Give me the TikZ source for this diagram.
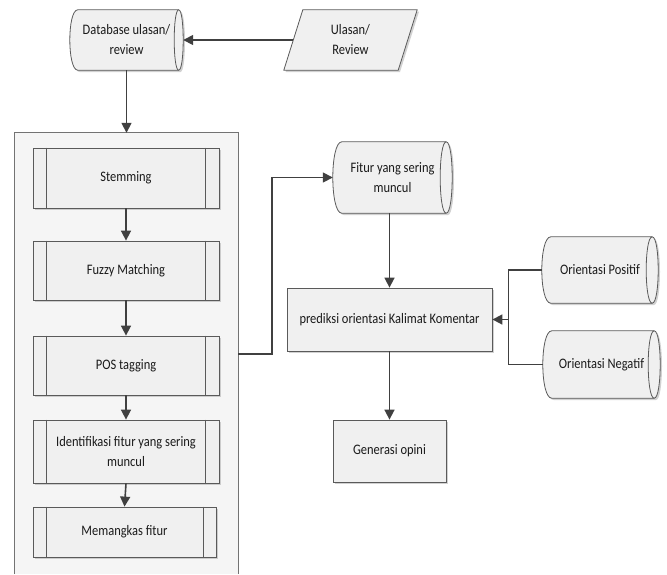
\documentclass[tikz,border=0pt]{standalone}
\usepackage{fontspec}
\setmainfont{Carlito}[FakeStretch=0.86]
\usetikzlibrary{calc,shadows,arrows.meta}
\pgfdeclarelayer{back}
\pgfdeclarelayer{mid}
\pgfsetlayers{back,mid,main}
\definecolor{linecol}{HTML}{404040}
\definecolor{boxline}{HTML}{5A5A5A}
\definecolor{boxfill}{HTML}{F0F0F0}
\definecolor{grpfill}{HTML}{F5F5F5}
\definecolor{txt}{HTML}{1A1A1A}
\tikzset{
  lbl/.style={font=\fontsize{14.5}{20}\selectfont, text=txt, align=center, inner sep=0pt},
  boxshadow/.style={drop shadow={shadow xshift=1.8pt, shadow yshift=-1.8pt, fill=black!30, opacity=0.6}},
  shapefill/.style={fill=boxfill, draw=boxline, line width=0.8pt, boxshadow},
  shapeline/.style={draw=boxline, line width=0.8pt},
  procbox/.style={lbl, draw=boxline, line width=0.8pt, fill=boxfill, boxshadow},
  plainbox/.style={lbl, draw=boxline, line width=0.8pt, fill=boxfill, boxshadow},
  conn/.style={draw=linecol, line width=1.6pt},
  arr/.style={conn, -{Triangle[length=10pt,width=10pt]}},
}
\newcommand\drawcyl[3]{%
  \path[shapefill] ($(#1.north west)+(#2,0)$)
    .. controls ($(#1.north west)+(-#2/3,0)$) and ($(#1.south west)+(-#2/3,0)$) .. ($(#1.south west)+(#2,0)$)
    -- ($(#1.south east)+(-#3,0)$)
    .. controls ($(#1.south east)+(#3/3,0)$) and ($(#1.north east)+(#3/3,0)$) .. ($(#1.north east)+(-#3,0)$)
    -- cycle;
  \draw[shapeline] ($(#1.north east)+(-#3,0)$)
    .. controls ($(#1.north east)+(-7*#3/3,0)$) and ($(#1.south east)+(-7*#3/3,0)$) .. ($(#1.south east)+(-#3,0)$);
}
\newcommand\drawsub[3]{%
  \draw[shapeline] ($(#1.north west)+(#2,0)$) -- ($(#1.south west)+(#2,0)$);
  \draw[shapeline] ($(#1.north east)+(-#3,0)$) -- ($(#1.south east)+(-#3,0)$);
}
\begin{document}
\begin{tikzpicture}[x=1pt,y=1pt]
\useasboundingbox (0,0) rectangle (667,-574);

% container
\node[minimum width=223pt, minimum height=441pt, inner sep=0pt] (grp) at (126.5,-353.5) {};
\begin{pgfonlayer}{back}
  \fill[grpfill] (grp.north west) rectangle (grp.south east);
  \draw[draw=black!55, line width=0.8pt] (grp.south west) -- (grp.north west) -- (grp.north east) -- (grp.south east);
\end{pgfonlayer}

% top nodes
\node[lbl, minimum width=113pt, minimum height=60pt] (db) at (126.5,-40) {Database ulasan/\\review};
\node[lbl, minimum width=114pt, minimum height=60pt] (ul) at (350.5,-40) {Ulasan/\\Review};
\begin{pgfonlayer}{mid}
  \drawcyl{db}{8}{4.5}
  \path[shapefill] ($(ul.north west)+(9.5,0)$) -- ($(ul.north east)+(9.5,0)$)
     -- ($(ul.south east)+(-9.5,0)$) -- ($(ul.south west)+(-9.5,0)$) -- cycle;
\end{pgfonlayer}

% sub-processes
\node[procbox, minimum width=186pt, minimum height=60pt] (stem) at (126,-178) {Stemming};
\node[procbox, minimum width=186pt, minimum height=59pt] (fuzzy) at (126,-270.5) {Fuzzy Matching};
\node[procbox, minimum width=186pt, minimum height=59pt] (pos) at (126,-365.5) {POS tagging};
\node[procbox, minimum width=186pt, minimum height=63pt] (ident) at (126,-451.5) {Identifikasi fitur yang sering\\muncul};
\node[procbox, minimum width=183pt, minimum height=50pt] (mang) at (124.5,-532) {Memangkas fitur};
\drawsub{stem}{14}{14}
\drawsub{fuzzy}{14}{14}
\drawsub{pos}{14}{14}
\drawsub{ident}{14}{14}
\drawsub{mang}{14}{13}

% right side
\node[lbl, minimum width=119pt, minimum height=71pt] (fit) at (392.5,-177.5) {Fitur yang sering\\muncul};
\node[plainbox, minimum width=205pt, minimum height=63pt] (pred) at (389.5,-319.5) {prediksi orientasi Kalimat Komentar};
\node[lbl, minimum width=116pt, minimum height=66pt] (opos) at (600,-270) {Orientasi Positif};
\node[lbl, minimum width=117pt, minimum height=67pt] (oneg) at (601.5,-364.5) {Orientasi Negatif};
\node[plainbox, minimum width=113pt, minimum height=62pt] (gen) at (389.5,-451) {Generasi opini};
\begin{pgfonlayer}{mid}
  \drawcyl{fit}{9}{6}
  \drawcyl{opos}{9}{6}
  \drawcyl{oneg}{9}{6}
\end{pgfonlayer}

% connectors
\draw[arr] (ul.west) -- (db.east);
\draw[arr] (db.south) -- (grp.north);
\draw[arr] (stem.south) -- (fuzzy.north);
\draw[arr] (fuzzy.south) -- (pos.north);
\draw[arr] (pos.south) -- (ident.north);
\draw[arr] (ident.south) -- (mang.north);
\coordinate (bend) at ($(grp.east |- pos.east)+(33.5,11.5)$);
\draw[arr] ($(grp.east |- pos.east)+(0,11.5)$) -- (bend) |- (fit.west);
\draw[arr] (pred.north |- fit.south) -- (pred.north);
\coordinate (jn) at ($(pred.east)+(16,0)$);
\draw[conn] (opos.west) -| (jn);
\draw[conn] (oneg.west) -| (jn);
\draw[arr] (jn) -- (pred.east);
\draw[arr] (pred.south) -- (gen.north);
\end{tikzpicture}
\end{document}
